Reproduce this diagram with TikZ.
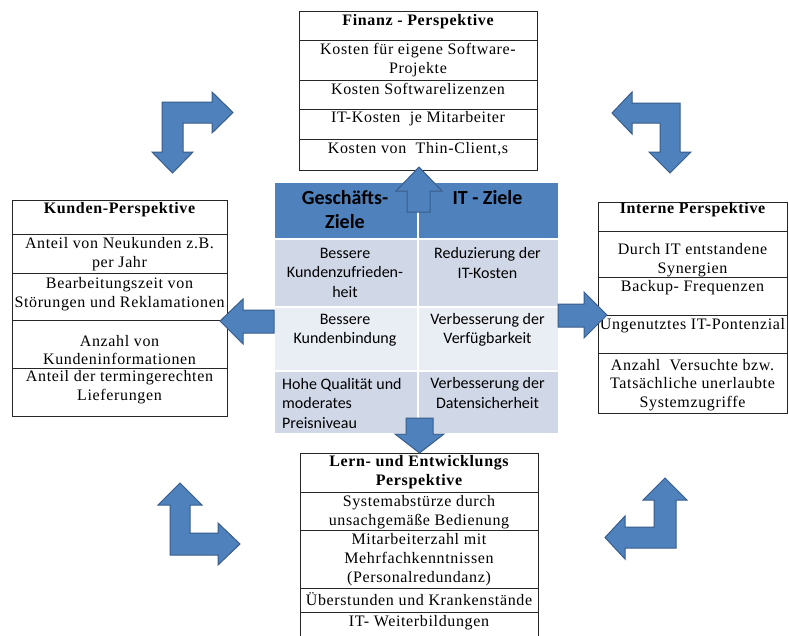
\documentclass[tikz,border=0pt]{standalone}
\usepackage{fontspec}
\newfontfamily\timesfont[LetterSpace=4]{Liberation Serif}
\newfontfamily\bodysans{Carlito}

\definecolor{hdrblue}{HTML}{4F81BD}
\definecolor{rowdark}{HTML}{D0D8E8}
\definecolor{rowlight}{HTML}{E9EDF4}
\definecolor{arrowedge}{HTML}{385D8A}

\newcommand\cellfont{\timesfont\fontsize{16}{18.8}\selectfont}
\newcommand\goalfont{\bodysans\fontsize{16}{19.5}\selectfont}
\newcommand\goalhead{\bodysans\bfseries\fontsize{20}{24}\selectfont}

\begin{document}
\begin{tikzpicture}[x=1pt,y=-1pt,
  row/.style={draw=black!85, line width=0.8pt, inner sep=0pt, anchor=north west},
  rtext/.style={font=\cellfont, align=center, inner sep=0pt},
  rhead/.style={font=\cellfont\bfseries, align=center, inner sep=0pt},
  gcell/.style={draw=white, line width=1.5pt, inner sep=0pt, anchor=north west},
  gtext/.style={font=\goalfont, align=center, inner sep=0pt},
  ghead/.style={font=\goalhead, align=center, inner sep=0pt},
  blockarrow/.style={fill=hdrblue, draw=arrowedge, line width=1pt, line join=miter}]

\useasboundingbox[fill=white] (0,0) rectangle (789,635);

% ---------- Finanz-Perspektive ----------
\node[row, minimum width=238, minimum height=29] (f0) at (299,11) {};
\node[row, minimum width=238, minimum height=40] (f1) at (299,40) {};
\node[row, minimum width=238, minimum height=29] (f2) at (299,80) {};
\node[row, minimum width=238, minimum height=30] (f3) at (299,109) {};
\node[row, minimum width=238, minimum height=31] (f4) at (299,139) {};
\node[rhead] (f0t) at (418,22) {Finanz - Perspektive};
\node[rtext] (f1t) at (418,60) {Kosten für eigene Software-\\Projekte};
\node[rtext] (f2t) at (418,88.5) {Kosten Softwarelizenzen};
\node[rtext] (f3t) at (418,118.5) {IT-Kosten\ \ je Mitarbeiter};
\node[rtext] (f4t) at (418,149) {Kosten von\ \ Thin-Client,s};

% ---------- Kunden-Perspektive ----------
\node[row, minimum width=215, minimum height=34] (k0) at (12,200) {};
\node[row, minimum width=215, minimum height=39] (k1) at (12,234) {};
\node[row, minimum width=215, minimum height=47] (k2) at (12,273) {};
\node[row, minimum width=215, minimum height=48] (k3) at (12,320) {};
\node[row, minimum width=215, minimum height=48] (k4) at (12,368) {};
\node[rhead] (k0t) at (119.5,210) {Kunden-Perspektive};
\node[rtext] (k1t) at (119.5,254) {Anteil von Neukunden z.B.\\per Jahr};
\node[rtext] (k2t) at (119.5,294) {Bearbeitungszeit von\\Störungen und Reklamationen};
\node[rtext] (k3t) at (119.5,350) {Anzahl von\\Kundeninformationen};
\node[rtext] (k4t) at (119.5,387.5) {Anteil der termingerechten\\Lieferungen};

% ---------- Interne Perspektive ----------
\node[row, minimum width=189, minimum height=29] (i0) at (598,202) {};
\node[row, minimum width=189, minimum height=46] (i1) at (598,231) {};
\node[row, minimum width=189, minimum height=38] (i2) at (598,277) {};
\node[row, minimum width=189, minimum height=38] (i3) at (598,315) {};
\node[row, minimum width=189, minimum height=60] (i4) at (598,353) {};
\node[rhead] (i0t) at (692.5,210) {Interne Perspektive};
\node[rtext] (i1t) at (692.5,260) {Durch IT entstandene\\Synergien};
\node[rtext] (i2t) at (692.5,288) {Backup- Frequenzen};
\node[rtext] (i3t) at (692.5,326) {Ungenutztes IT-Pontenzial};
\node[rtext] (i4t) at (692.5,385) {Anzahl\ \ Versuchte bzw.\\Tatsächliche unerlaubte\\Systemzugriffe};

% ---------- Lern- und Entwicklungsperspektive ----------
\node[row, minimum width=238, minimum height=39] (l0) at (300,453) {};
\node[row, minimum width=238, minimum height=38] (l1) at (300,492) {};
\node[row, minimum width=238, minimum height=58] (l2) at (300,530) {};
\node[row, minimum width=238, minimum height=24] (l3) at (300,588) {};
\node[row, minimum width=238, minimum height=24] (l4) at (300,612) {};
\node[rhead] (l0t) at (419,472.5) {Lern- und Entwicklungs\\Perspektive};
\node[rtext] (l1t) at (419,512) {Systemabstürze durch\\unsachgemäße Bedienung};
\node[rtext] (l2t) at (419,559.5) {Mitarbeiterzahl mit\\Mehrfachkenntnissen\\(Personalredundanz)};
\node[rtext] (l3t) at (419,599.5) {Überstunden und Krankenstände};
\node[rtext] (l4t) at (419,623) {IT- Weiterbildungen};

% ---------- Ziele-Tabelle ----------
\node[gcell, fill=hdrblue, minimum width=144, minimum height=57] (gh1) at (273,181) {};
\node[gcell, fill=hdrblue, minimum width=141, minimum height=57] (gh2) at (417,181) {};
\node[gcell, fill=rowdark, minimum width=144, minimum height=68] (g11) at (273,238) {};
\node[gcell, fill=rowdark, minimum width=141, minimum height=68] (g12) at (417,238) {};
\node[gcell, fill=rowlight, minimum width=144, minimum height=64] (g21) at (273,306) {};
\node[gcell, fill=rowlight, minimum width=141, minimum height=64] (g22) at (417,306) {};
\node[gcell, fill=rowdark, minimum width=144, minimum height=63] (g31) at (273,370) {};
\node[gcell, fill=rowdark, minimum width=141, minimum height=63] (g32) at (417,370) {};

\node[ghead] (gh1t) at (345,210) {Geschäfts-\\Ziele};
\node[ghead] (gh2t) at (487.5,198) {IT - Ziele};
\node[gtext] (g11t) at (345,272.5) {Bessere\\Kundenzufrieden-\\heit};
\node[gtext] (g12t) at (487.5,263) {Reduzierung der\\IT-Kosten};
\node[gtext] (g21t) at (345,330) {Bessere\\Kundenbindung};
\node[gtext] (g22t) at (487.5,330) {Verbesserung der\\Verfügbarkeit};
\node[gtext, align=left, anchor=west] (g31t) at (282,403) {Hohe Qualität und\\moderates\\Preisniveau};
\node[gtext] (g32t) at (487.5,393) {Verbesserung der\\Datensicherheit};

% ---------- Blockpfeile aus der Tabelle ----------
% nach oben
\draw[blockarrow] (407,212) -- (407,191) -- (396,191) -- (419,167) -- (442,191)
  -- (430,191) -- (430,212) -- cycle;
% nach unten
\draw[blockarrow] (406,418) -- (406,434) -- (395,434) -- (419.5,453) -- (444,434)
  -- (433,434) -- (433,418) -- cycle;
% nach links
\draw[blockarrow] (274,310) -- (243,310) -- (243,299) -- (220,321) -- (243,344)
  -- (243,333) -- (274,333) -- cycle;
% nach rechts
\draw[blockarrow] (558,304) -- (584,304) -- (584,292) -- (607,315) -- (584,338)
  -- (584,327) -- (558,327) -- cycle;

% ---------- Winkelpfeile in den Ecken ----------
% oben links
\draw[blockarrow] (162,102) -- (212,102) -- (212,92) -- (233,112.5) -- (212,133)
  -- (212,123) -- (183,123) -- (183,152) -- (193,152) -- (172.5,173) -- (152,152)
  -- (162,152) -- cycle;
% oben rechts
\draw[blockarrow] (680,103) -- (632,103) -- (632,92) -- (612,113) -- (632,134)
  -- (632,123) -- (660,123) -- (660,152) -- (649,152) -- (670,173) -- (691,152)
  -- (680,152) -- cycle;
% unten links
\draw[blockarrow] (170,555) -- (170,505) -- (158,505) -- (180,483) -- (202,505)
  -- (190,505) -- (190,533) -- (218,533) -- (218,523) -- (240,544) -- (218,565)
  -- (218,555) -- cycle;
% unten rechts
\draw[blockarrow] (676,548) -- (676,500) -- (687,500) -- (665,478) -- (643,500)
  -- (654,500) -- (654,527) -- (625,527) -- (625,516) -- (605,537.5) -- (625,559)
  -- (625,548) -- cycle;

\end{tikzpicture}
\end{document}
